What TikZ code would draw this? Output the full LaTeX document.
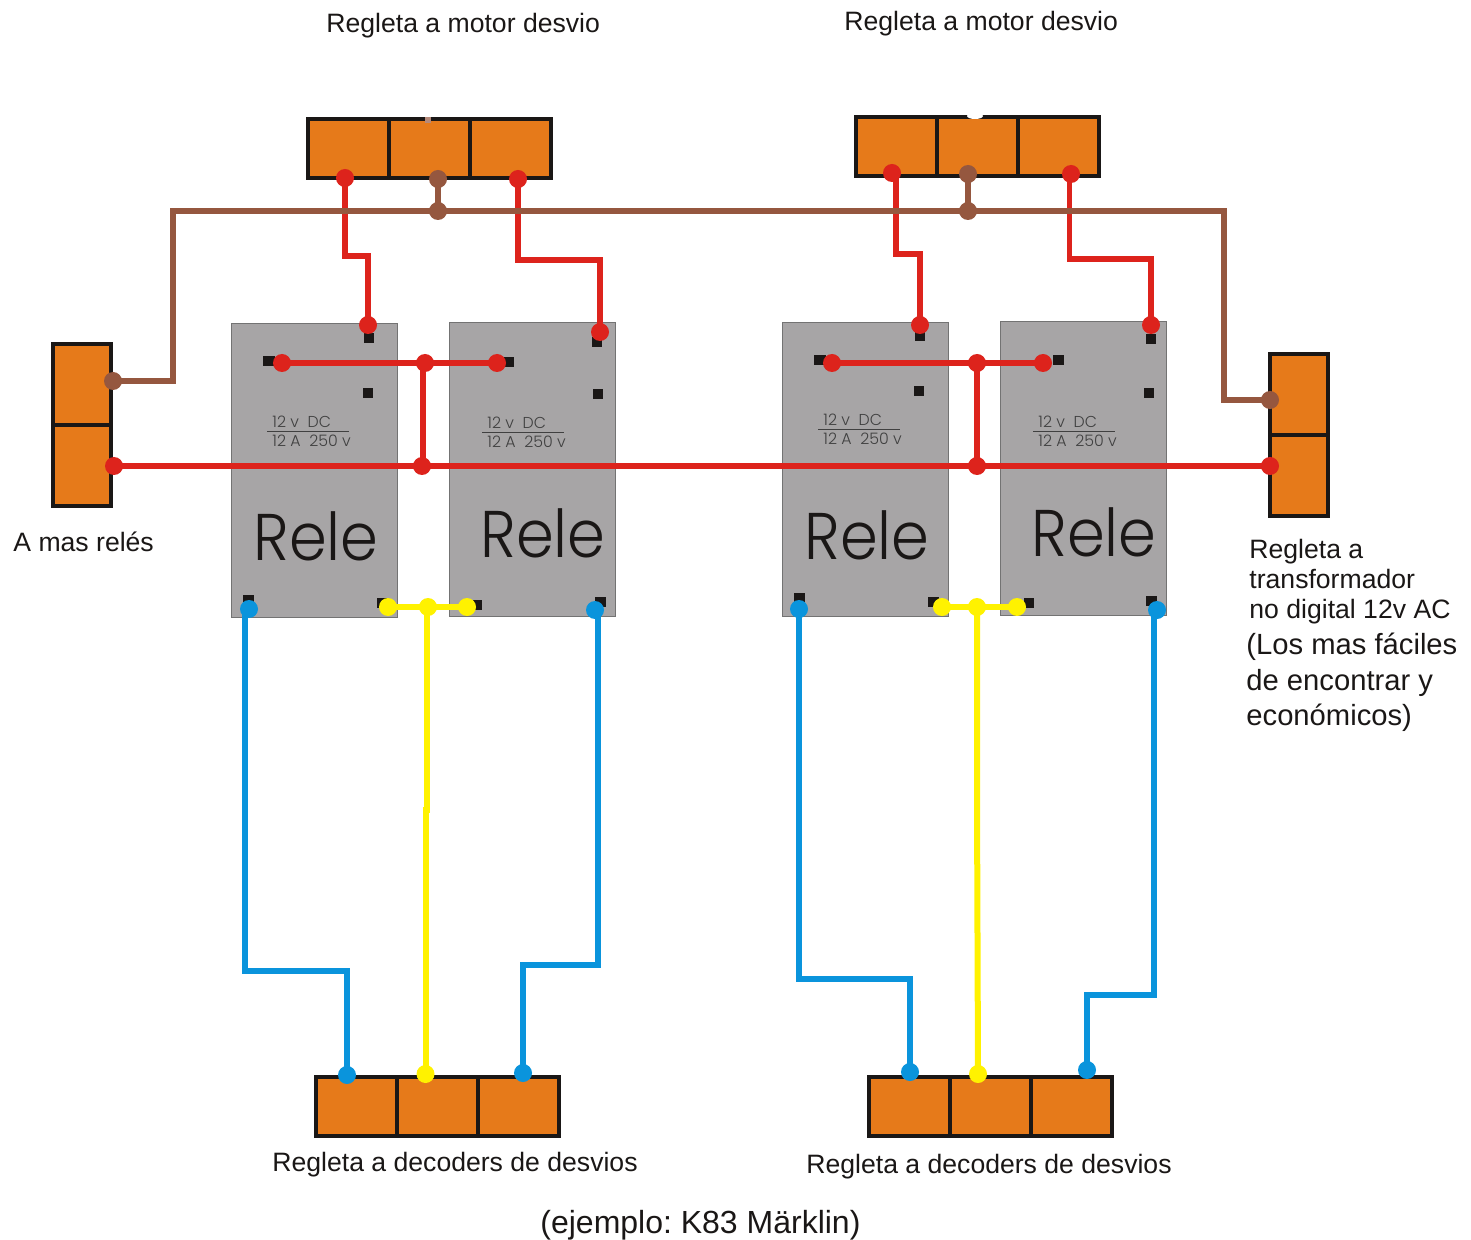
\documentclass[tikz,border=0pt]{standalone}
\usepackage{fontspec}
\usetikzlibrary{shapes.geometric}
\setmainfont{Liberation Sans}
\newfontfamily\relefont{Poppins Light}
\pgfdeclarelayer{lowest}
\pgfdeclarelayer{wires}
\pgfsetlayers{lowest,wires,main}
\definecolor{cellorange}{HTML}{E67A1A}
\definecolor{wirered}{HTML}{DD231C}
\definecolor{wirebrown}{HTML}{95573F}
\definecolor{wireblue}{HTML}{0A94DC}
\definecolor{wireyellow}{HTML}{FFF200}
\definecolor{relaygrey}{HTML}{A7A5A6}
\definecolor{inkdark}{HTML}{1A1716}
\tikzset{
  cell/.style={draw=inkdark,fill=cellorange,line width=1.6pt,inner sep=0,outer sep=0,anchor=north west,minimum width=40.5pt,minimum height=29.5pt},
  vcell/.style={draw=inkdark,fill=cellorange,line width=1.6pt,inner sep=0,outer sep=0,anchor=north west,minimum width=29pt,minimum height=40.5pt},
  relaybox/.style={draw=black!55,fill=relaygrey,line width=0.4pt,inner sep=0,outer sep=0,anchor=north west,minimum width=83pt,minimum height=147pt},
  pin/.style={fill=inkdark,inner sep=0,minimum width=5pt,minimum height=5pt},
  dotnode/.style={circle,inner sep=0,minimum size=9pt},
  rd/.style={dotnode,fill=wirered},
  bd/.style={dotnode,fill=wirebrown},
  ud/.style={dotnode,fill=wireblue},
  yd/.style={dotnode,fill=wireyellow},
  wire/.style={line width=2.6pt,line join=miter},
  rw/.style={wire,draw=wirered},
  bw/.style={wire,draw=wirebrown,line width=3pt},
  uw/.style={wire,draw=wireblue},
  yw/.style={wire,draw=wireyellow,line width=3pt},
  lab/.style={inner sep=0,anchor=base west,font=\fontsize{13.3}{15}\selectfont,text=inkdark},
  biglab/.style={inner sep=0,anchor=base west,font=\fontsize{14.6}{17}\selectfont,text=inkdark},
  hugelab/.style={inner sep=0,anchor=base west,font=\fontsize{16}{18}\selectfont,text=inkdark},
  relelab/.style={inner sep=0,anchor=base west,xscale=0.92,transform shape,font=\relefont\fontsize{33}{36}\selectfont,text=inkdark},
  ratelab/.style={inner sep=0,anchor=base west,font=\relefont\fontsize{7.9}{9}\selectfont,text=black!75},
}
\frenchspacing
\newcommand{\relaytext}[5]{%
  \node[relelab] (#1rele) at (#4,#5) {Rele};
  \node[ratelab] (#1ra) at (#2,#3) {12 v\ \ DC};
  \node[ratelab] (#1rb) at (#2,#3+19) {12 A\ \ 250 v};
  \draw[black!75,line width=0.5pt] (#2-5,#3+4) -- (#2+77,#3+4);
}
\begin{document}
\begin{tikzpicture}[x=0.5pt,y=-0.5pt]
\useasboundingbox (0,0) rectangle (1471,1240);
\begin{pgfonlayer}{lowest}
  % terminal strips
  \node[cell] (ta1) at (308,119) {};
  \node[cell] (ta2) at (389,119) {};
  \node[cell] (ta3) at (470,119) {};
  \node[cell] (tb1) at (856,117) {};
  \node[cell] (tb2) at (937,117) {};
  \node[cell] (tb3) at (1018,117) {};
  \node[cell] (da1) at (316,1077) {};
  \node[cell] (da2) at (397,1077) {};
  \node[cell] (da3) at (478,1077) {};
  \node[cell] (db1) at (869,1077) {};
  \node[cell] (db2) at (950,1077) {};
  \node[cell] (db3) at (1031,1077) {};
  \node[vcell] (la1) at (53,344) {};
  \node[vcell] (la2) at (53,425) {};
  \node[vcell] (ra1) at (1270,354) {};
  \node[vcell] (ra2) at (1270,435) {};
  \node[fill=wirebrown!70,inner sep=0,minimum size=3pt] (tick) at (428,120.5) {};
  \node[fill=white,ellipse,inner sep=0,minimum width=8pt,minimum height=3pt] (notch) at (975,116) {};
  % relays
  \node[relaybox] (rel1) at (231,323) {};
  \node[relaybox] (rel2) at (449,322.5) {};
  \node[relaybox] (rel3) at (782,322) {};
  \node[relaybox] (rel4) at (1000,321) {};
  \relaytext{a}{272}{428}{253}{560}
  \relaytext{b}{487}{429}{480}{557}
  \relaytext{c}{823}{426}{804}{559}
  \relaytext{d}{1038}{428}{1031}{556}
  % pins
  \node[pin] (p1) at (368.5,338) {};
  \node[pin,minimum width=6pt] (p2) at (269,361) {};
  \node[pin] (p3) at (367.5,393) {};
  \node[pin,minimum width=5.5pt] (p4) at (248.5,599.5) {};
  \node[pin,minimum width=5.5pt] (p5) at (382.5,602.5) {};
  \node[pin] (p6) at (597,342.5) {};
  \node[pin] (p7) at (509,362) {};
  \node[pin] (p8) at (597.5,394.5) {};
  \node[pin] (p9) at (476.5,604.5) {};
  \node[pin,minimum width=5.5pt] (p10) at (600,601.5) {};
  \node[pin] (p11) at (919.5,336.5) {};
  \node[pin,minimum width=6pt] (p12) at (820,360) {};
  \node[pin] (p13) at (918.5,391.5) {};
  \node[pin,minimum width=5.5pt] (p14) at (799,598) {};
  \node[pin,minimum width=5.5pt] (p15) at (933,601.5) {};
  \node[pin] (p16) at (1150.5,339.5) {};
  \node[pin,minimum width=5.5pt] (p17) at (1058.5,360) {};
  \node[pin] (p18) at (1148.5,393.5) {};
  \node[pin] (p19) at (1028.5,603) {};
  \node[pin,minimum width=5.5pt] (p20) at (1151.5,600.5) {};
\end{pgfonlayer}
% dots
\node[rd] (rt1) at (345,178) {};
\node[rd] (rt2) at (518,179) {};
\node[rd] (rt3) at (892,173) {};
\node[rd] (rt4) at (1071,174) {};
\node[rd] (r1t) at (368,325) {};
\node[rd] (r2t) at (600,332) {};
\node[rd] (r3t) at (920,325) {};
\node[rd] (r4t) at (1151,325) {};
\node[rd] (r1l) at (282,363) {};
\node[rd] (ca) at (425,363) {};
\node[rd] (r2l) at (497,363) {};
\node[rd] (r3l) at (832,363) {};
\node[rd] (cb) at (977,363) {};
\node[rd] (r4l) at (1043,363) {};
\node[rd] (ja) at (422,466) {};
\node[rd] (jb) at (977,466) {};
\node[rd] (ml) at (114,466) {};
\node[rd] (mr) at (1270,466) {};
\node[bd] (bt1) at (438,179) {};
\node[bd] (bj1) at (438,211) {};
\node[bd] (bt2) at (968,174) {};
\node[bd] (bj2) at (968,211) {};
\node[bd] (bl) at (113,381) {};
\node[bd] (br) at (1270,400) {};
\node[ud] (u1) at (249,609) {};
\node[ud] (u2) at (595,610) {};
\node[ud] (u3) at (799,609) {};
\node[ud] (u4) at (1157,610) {};
\node[ud] (ub1) at (347,1075) {};
\node[ud] (ub2) at (523,1073) {};
\node[ud] (ub3) at (910,1072) {};
\node[ud] (ub4) at (1087,1070) {};
\node[yd] (y1) at (388,607) {};
\node[yd] (y2) at (428,607) {};
\node[yd] (y3) at (467,607) {};
\node[yd] (y4) at (942,607) {};
\node[yd] (y5) at (977,607) {};
\node[yd] (y6) at (1017,607) {};
\node[yd] (yb1) at (425.5,1074) {};
\node[yd] (yb2) at (978,1074) {};
\begin{pgfonlayer}{wires}
  % red
  \draw[rw] (rt1.center) -- (345,256) -- (368,256) -- (r1t.center);
  \draw[rw] (rt2.center) -- (518,260) -- (600,260) -- (r2t.center);
  \draw[rw] (896,173) -- (896,254) -- (920,254) -- (r3t.center);
  \draw[rw] (1069.5,174) -- (1069.5,259) -- (1151,259) -- (r4t.center);
  \draw[rw] (r1l.center) -- (ca.center) -- (r2l.center);
  \draw[rw] (r3l.center) -- (cb.center) -- (r4l.center);
  \draw[rw] (423,363) -- (423,466);
  \draw[rw] (cb.center) -- (jb.center);
  \draw[rw] (ml.center) -- (mr.center);
  % brown
  \draw[bw] (bl.center) -- (173,381) -- (173,211) -- (1224,211) -- (1224,400) -- (br.center);
  \draw[bw] (bt1.center) -- (bj1.center);
  \draw[bw] (bt2.center) -- (bj2.center);
  % blue
  \draw[uw] (u1.center) -- (245,609) -- (245,971) -- (347,971) -- (ub1.center);
  \draw[uw] (u2.center) -- (598,610) -- (598,965) -- (523,965) -- (ub2.center);
  \draw[uw] (u3.center) -- (799,979) -- (910,979) -- (ub3.center);
  \draw[uw] (u4.center) -- (1154,610) -- (1154,995) -- (1087,995) -- (ub4.center);
  % yellow
  \draw[yw] (y1.center) -- (y3.center);
  \draw[yw] (y4.center) -- (y6.center);
  \draw[yw] (426.5,607) -- (426.5,810) -- (425.5,810) -- (yb1.center);
  \draw[yw] (y5.center) -- (977,800) -- (yb2.center);
\end{pgfonlayer}
% labels
\node[lab] (t1) at (326,33) {Regleta a motor desvio};
\node[lab] (t2) at (844,31) {Regleta a motor desvio};
\node[lab] (t3) at (13,552) {A mas relés};
\node[lab] (t4) at (1249,558) {Regleta a};
\node[lab] (t5) at (1249,588) {transformador};
\node[lab] (t6) at (1249,618) {no digital 12v AC};
\node[biglab] (t7) at (1246,654) {(Los mas fáciles};
\node[biglab] (t8) at (1246,690) {de encontrar y};
\node[biglab] (t9) at (1246,725) {económicos)};
\node[lab] (t10) at (272,1171) {Regleta a decoders de desvios};
\node[lab] (t11) at (806,1173) {Regleta a decoders de desvios};
\node[hugelab] (t12) at (540,1233) {(ejemplo: K83 Märklin)};
\end{tikzpicture}
\end{document}
